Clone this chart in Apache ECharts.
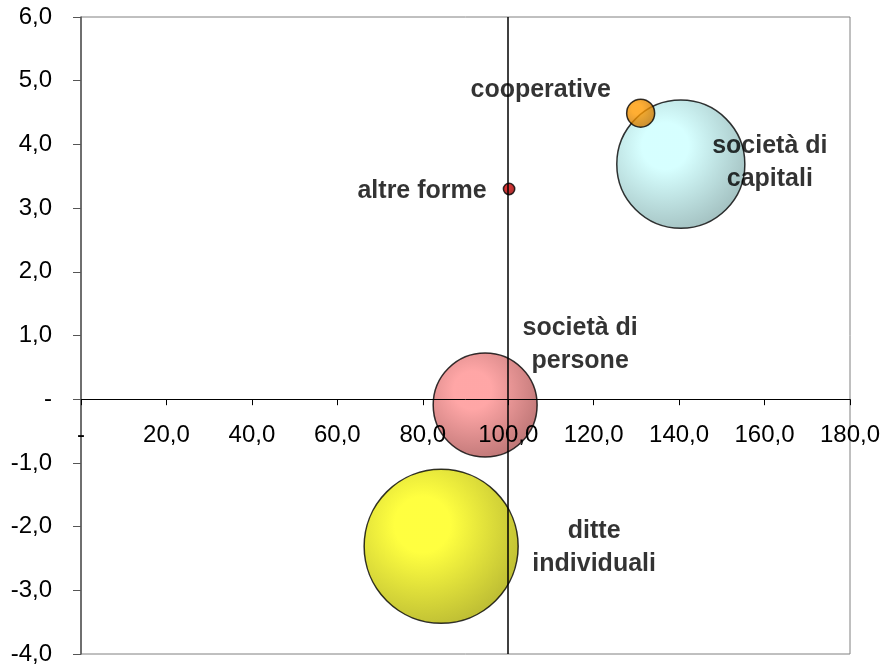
<!DOCTYPE html>
<html>
<head>
<meta charset="utf-8">
<script src="https://cdn.jsdelivr.net/npm/echarts@6/dist/echarts.min.js"></script>
<style>html,body{margin:0;padding:0;background:#fff}#c{width:883px;height:668px}</style>
</head>
<body>
<div id="c"></div>
<script>
var categories = ['ditte individuali', 'società di persone', 'società di capitali', 'cooperative', 'altre forme'];
var labelTexts = ['ditte\nindividuali', 'società di\npersone', 'società di\ncapitali', 'cooperative', 'altre forme'];
var xValues = [84.3, 94.6, 140.4, 131.0, 100.2];
var yValues = [-2.31, -0.09, 3.69, 4.49, 3.30];
var sizeValues = [59.3, 27.0, 41.0, 1.96, 0.32];
var refLineX = 100;
var yMin = -4, yMax = 6;

var styleByName = {
  'ditte individuali': {c0: '#ffff10', c1: '#a6a600', off: [153, 1]},
  'società di persone': {c0: '#ff9090', c1: '#a85050', off: [95, -60]},
  'società di capitali': {c0: '#ccffff', c1: '#88acac', off: [89, -2]},
  'cooperative': {c0: '#ff9a00', c1: '#c07000', off: [-100, -23]},
  'altre forme': {c0: '#d00000', c1: '#800000', off: [-87, 2]}
};

function fmt(v) {
  if (Math.abs(v) < 1e-9) return '-';
  return v.toFixed(1).replace('.', ',');
}

var data = categories.map(function (name, i) {
  var s = styleByName[name];
  return {
    name: name,
    value: [xValues[i], yValues[i], sizeValues[i]],
    itemStyle: {
      color: {
        type: 'radial', x: 0.38, y: 0.36, r: 0.72,
        colorStops: [{offset: 0, color: s.c0}, {offset: 0.25, color: s.c0}, {offset: 1, color: s.c1}]
      },
      borderColor: '#000', borderWidth: 1.5
    },
    label: {offset: s.off}
  };
});

var W = 883, H = 668;
var G = {left: 81, right: 33, top: 17, bottom: 14};
var gridH = H - G.top - G.bottom;
var xAxisOffset = -(0 - yMin) / (yMax - yMin) * gridH;

var font = 'Liberation Sans, Arial, sans-serif';
var chart = echarts.init(document.getElementById('c'));
chart.setOption({
  animation: false,
  grid: {left: G.left, right: G.right, top: G.top, bottom: G.bottom, show: true, borderColor: '#808080', borderWidth: 1,
         containLabel: false, outerBoundsMode: 'none'},
  xAxis: {
    type: 'value', min: 0, max: 180, interval: 20, position: 'bottom', z: 10, offset: xAxisOffset,
    axisLine: {show: false, onZero: false},
    axisTick: {show: true, length: 6, lineStyle: {color: '#000'}},
    axisLabel: {show: true, formatter: fmt, color: '#000', fontSize: 24, fontFamily: font, margin: 24},
    splitLine: {show: false}
  },
  yAxis: {
    type: 'value', min: yMin, max: yMax, interval: 1,
    axisLine: {onZero: false, lineStyle: {color: '#555', width: 1.5}},
    axisTick: {show: true, length: 8, lineStyle: {color: '#555'}},
    axisLabel: {formatter: fmt, color: '#000', fontSize: 24, fontFamily: font, margin: 29},
    splitLine: {show: false}
  },
  series: [{
    type: 'scatter', data: [], z: 1,
    markLine: {
      silent: true, symbol: 'none', label: {show: false},
      lineStyle: {color: '#000', width: 1, type: 'solid'},
      data: [{yAxis: 0}]
    }
  }, {
    type: 'scatter',
    data: data,
    symbolSize: function (val) { return 20 * Math.sqrt(val[2]); },
    label: {
      show: true, position: 'inside',
      formatter: function (p) { return labelTexts[p.dataIndex]; },
      color: '#000', fontWeight: 'bold', fontSize: 25, fontFamily: font, lineHeight: 33, align: 'center',
      textBorderWidth: 0
    },
    emphasis: {disabled: true}
  }, {
    type: 'scatter', data: [], z: 5,
    markLine: {
      silent: true, symbol: 'none', label: {show: false},
      lineStyle: {color: '#000', width: 1.5, type: 'solid'},
      data: [{xAxis: refLineX}]
    }
  }]
});
</script>
</body>
</html>
